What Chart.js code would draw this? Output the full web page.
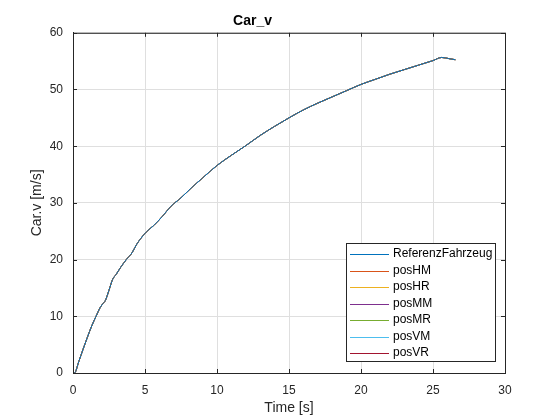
<!DOCTYPE html>
<html>
<head>
<meta charset="utf-8">
<script src="https://cdn.jsdelivr.net/npm/chart.js@4.4.0/dist/chart.umd.min.js"></script>
<style>
  body { margin: 0; background: #fff; }
  #wrap { width: 560px; height: 420px; }
</style>
</head>
<body>
<div id="wrap"><canvas id="myChart" width="560" height="420"></canvas></div>
<script>
// time axis [s] and speed [m/s]
let timeValues = [0, 0.1, 0.4, 0.7, 1.0, 1.3, 1.6, 1.9, 2.1, 2.25, 2.5, 2.75, 3.0, 3.3, 3.7, 4.1, 4.4, 4.7, 5.1, 5.6, 6.2, 6.8, 7.5, 8.2, 9.0, 10, 11, 12, 13, 14, 15, 16, 17, 18, 19, 20, 21, 22, 23, 24, 25, 25.6, 26.1, 26.55];
let speedValues = [0, 0, 2.0, 4.2, 6.3, 8.3, 10.0, 11.6, 12.3, 12.8, 14.6, 16.5, 17.4, 18.6, 20.0, 21.2, 22.6, 23.7, 24.9, 26.0, 27.6, 29.4, 30.9, 32.6, 34.4, 36.6, 38.4, 40.1, 41.9, 43.5, 45.0, 46.4, 47.6, 48.7, 49.8, 50.9, 51.8, 52.7, 53.5, 54.3, 55.1, 55.65, 55.45, 55.25];

// all positions follow the same speed trace
let seriesNames = ['ReferenzFahrzeug', 'posHM', 'posHR', 'posMM', 'posMR', 'posVM', 'posVR'];
let seriesColors = ['rgb(0, 114, 189)', 'rgb(217, 83, 25)', 'rgb(237, 177, 32)', 'rgb(126, 47, 142)', 'rgb(119, 172, 48)', 'rgb(77, 190, 238)', 'rgb(162, 20, 47)'];

let xTicks = [0, 5, 10, 15, 20, 25, 30];
let yTicks = [0, 10, 20, 30, 40, 50, 60];

const fontName = '"Liberation Sans", Arial, Helvetica, sans-serif';
const axisColor = 'rgb(38, 38, 38)';

let datasets = [];
for (let i = 0; i < seriesNames.length; i++) {
  let pts = [];
  for (let j = 0; j < timeValues.length; j++) {
    pts.push({ x: timeValues[j], y: speedValues[j] });
  }
  datasets.push({
    label: seriesNames[i],
    data: pts,
    borderColor: seriesColors[i],
    backgroundColor: seriesColors[i],
    borderWidth: 1,
    pointRadius: 0,
    cubicInterpolationMode: 'monotone',
    fill: false
  });
}

// box around the axes plus inward ticks (matlab look)
const boxPlugin = {
  id: 'boxPlugin',
  afterDatasetsDraw(chart) {
    const ctx = chart.ctx;
    const a = chart.chartArea;
    const xs = chart.scales.x;
    const ys = chart.scales.y;
    ctx.save();
    ctx.strokeStyle = axisColor;
    ctx.lineWidth = 1;
    ctx.beginPath();
    ctx.rect(a.left + 0.5, a.top + 0.5, a.right - a.left, a.bottom - a.top);
    for (let i = 0; i < xTicks.length; i++) {
      let px = Math.round(xs.getPixelForValue(xTicks[i])) + 0.5;
      ctx.moveTo(px, a.bottom);
      ctx.lineTo(px, a.bottom - 4);
      ctx.moveTo(px, a.top);
      ctx.lineTo(px, a.top + 4);
    }
    for (let i = 0; i < yTicks.length; i++) {
      let py = Math.round(ys.getPixelForValue(yTicks[i])) + 0.5;
      ctx.moveTo(a.left, py);
      ctx.lineTo(a.left + 4, py);
      ctx.moveTo(a.right, py);
      ctx.lineTo(a.right - 4, py);
    }
    ctx.stroke();
    ctx.restore();
  }
};

// legend box in lower right corner of the plot
const legendPlugin = {
  id: 'legendPlugin',
  afterDraw(chart) {
    const ctx = chart.ctx;
    const a = chart.chartArea;
    const sets = chart.data.datasets;
    let w = 149;
    let h = 118;
    let x0 = a.right - 10 - w;
    let y0 = a.bottom - 12 - h;
    ctx.save();
    ctx.fillStyle = 'rgb(255, 255, 255)';
    ctx.fillRect(x0, y0, w, h);
    ctx.strokeStyle = axisColor;
    ctx.lineWidth = 1;
    ctx.strokeRect(Math.round(x0) + 0.5, Math.round(y0) + 0.5, w, h);
    ctx.font = '12px ' + fontName;
    ctx.textBaseline = 'middle';
    ctx.textAlign = 'left';
    for (let i = 0; i < sets.length; i++) {
      let yy = y0 + 11 + i * 16.5;
      ctx.strokeStyle = sets[i].borderColor;
      ctx.beginPath();
      ctx.moveTo(x0 + 4, Math.round(yy) + 0.5);
      ctx.lineTo(x0 + 43, Math.round(yy) + 0.5);
      ctx.stroke();
      ctx.fillStyle = 'rgb(0, 0, 0)';
      ctx.fillText(sets[i].label, x0 + 47, yy);
    }
    ctx.restore();
  }
};

const ctx = document.getElementById('myChart').getContext('2d');

let options = {
  type: 'line',
  data: { datasets: datasets },
  options: {
    responsive: false,
    animation: false,
    devicePixelRatio: 1,
    layout: { padding: { left: 0, right: 55, top: 0, bottom: 0 } },
    plugins: {
      legend: { display: false },
      tooltip: { enabled: false },
      title: {
        display: true,
        text: 'Car_v',
        color: 'rgb(0, 0, 0)',
        font: { family: fontName, size: 14, weight: 'bold', lineHeight: 1.2 },
        padding: { top: 12.5, bottom: 3.5 }
      }
    },
    scales: {
      x: {
        type: 'linear',
        min: 0,
        max: 30,
        afterBuildTicks: (scale) => { scale.ticks = xTicks.map(v => ({ value: v })); },
        afterFit: (scale) => { scale.height = 47; },
        ticks: { color: axisColor, padding: 10, font: { family: fontName, size: 12 } },
        grid: { color: 'rgb(223, 223, 223)', drawTicks: false },
        border: { color: axisColor },
        title: {
          display: true,
          text: 'Time [s]',
          color: axisColor,
          font: { family: fontName, size: 14 },
          padding: { top: 0, bottom: 3.6 }
        }
      },
      y: {
        type: 'linear',
        min: 0,
        max: 60,
        afterBuildTicks: (scale) => { scale.ticks = yTicks.map(v => ({ value: v })); },
        afterFit: (scale) => { scale.width = 73; },
        ticks: { color: axisColor, padding: 10, font: { family: fontName, size: 12 } },
        grid: { color: 'rgb(223, 223, 223)', drawTicks: false },
        border: { color: axisColor },
        title: {
          display: true,
          text: 'Car.v [m/s]',
          color: axisColor,
          font: { family: fontName, size: 14 },
          padding: { top: 28.6, bottom: 0 }
        }
      }
    }
  },
  plugins: [boxPlugin, legendPlugin]
};

const myChart = new Chart(ctx, options);
</script>
</body>
</html>
